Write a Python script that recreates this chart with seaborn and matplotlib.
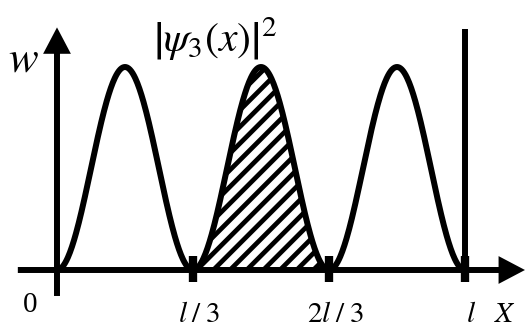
import numpy as np
import pandas as pd
import matplotlib
matplotlib.use("Agg")
import matplotlib.pyplot as plt
from matplotlib.patches import FancyArrowPatch
import seaborn as sns

# Probability density of the n = 3 state in an infinite well of width l
quantum_number = 3
tick_positions = [0.0, 1 / 3, 2 / 3, 1.0]
tick_labels = ["0", r"$l\;/\;3$", r"$2l\;/\;3$", r"$l$"]
shaded_interval = [1 / 3, 2 / 3]
density_label = r"$\left|\psi_3(x)\right|^2$"

x = np.linspace(0.0, 1.0, 600)
w = np.sin(quantum_number * np.pi * x) ** 2
curve = pd.DataFrame({"x": x, "w": w})

sns.set_theme(style="white")
plt.rcParams["font.family"] = ["Liberation Serif", "DejaVu Serif"]
plt.rcParams["mathtext.fontset"] = "stix"
plt.rcParams["hatch.linewidth"] = 3.4

fig = plt.figure(figsize=(5.25, 3.27), dpi=100)
ax = fig.add_axes([0, 0, 1, 1])
ax.set_xlim(-0.1397, 1.1471)
ax.set_ylim(-0.2808, 1.330)
ax.axis("off")

lw = 4.3

# hatched area between l/3 and 2l/3
mask = (curve["x"] >= shaded_interval[0]) & (curve["x"] <= shaded_interval[1])
ax.fill_between(curve["x"][mask], curve["w"][mask], 0, facecolor="white",
                edgecolor="black", hatch="//", linewidth=0, zorder=1)

sns.lineplot(data=curve, x="x", y="w", ax=ax, color="black", linewidth=lw,
             zorder=3, legend=False)

# coordinate axes with filled arrow heads
arrow_style = f"simple,tail_width={lw},head_width=20,head_length=19"
ax.add_patch(FancyArrowPatch((-0.096, 0), (1.147, 0), arrowstyle=arrow_style,
                             mutation_scale=1, lw=0, color="black",
                             shrinkA=0, shrinkB=0, zorder=4))
ax.add_patch(FancyArrowPatch((0, -0.128), (0, 1.195), arrowstyle=arrow_style,
                             mutation_scale=1, lw=0, color="black",
                             shrinkA=0, shrinkB=0, zorder=4))

# wall of the well at x = l
ax.plot([tick_positions[-1]] * 2, [0, 1.187], color="black", lw=lw,
        solid_capstyle="butt", zorder=4)

# tick marks
ax.vlines(tick_positions[1:], -0.059, 0.069, color="black", lw=6,
          zorder=5)

# labels
label_y = -0.256
for pos, lab in zip(tick_positions[1:], tick_labels[1:]):
    ax.text(pos + 0.015, label_y, lab, ha="center", va="baseline",
            fontsize=21, color="black")
ax.text(-0.066, -0.207, tick_labels[0], ha="center", va="baseline",
        fontsize=21, color="black")
ax.text(1.098, label_y, r"$X$", ha="center", va="baseline", fontsize=21,
        color="black")
ax.text(-0.083, 1.03, r"$w$", ha="center", va="center", fontsize=32,
        color="black")
ax.text(0.235, 1.135, density_label, ha="left", va="center", fontsize=30,
        color="black")

fig.savefig("out.png", dpi=100, facecolor="white")
